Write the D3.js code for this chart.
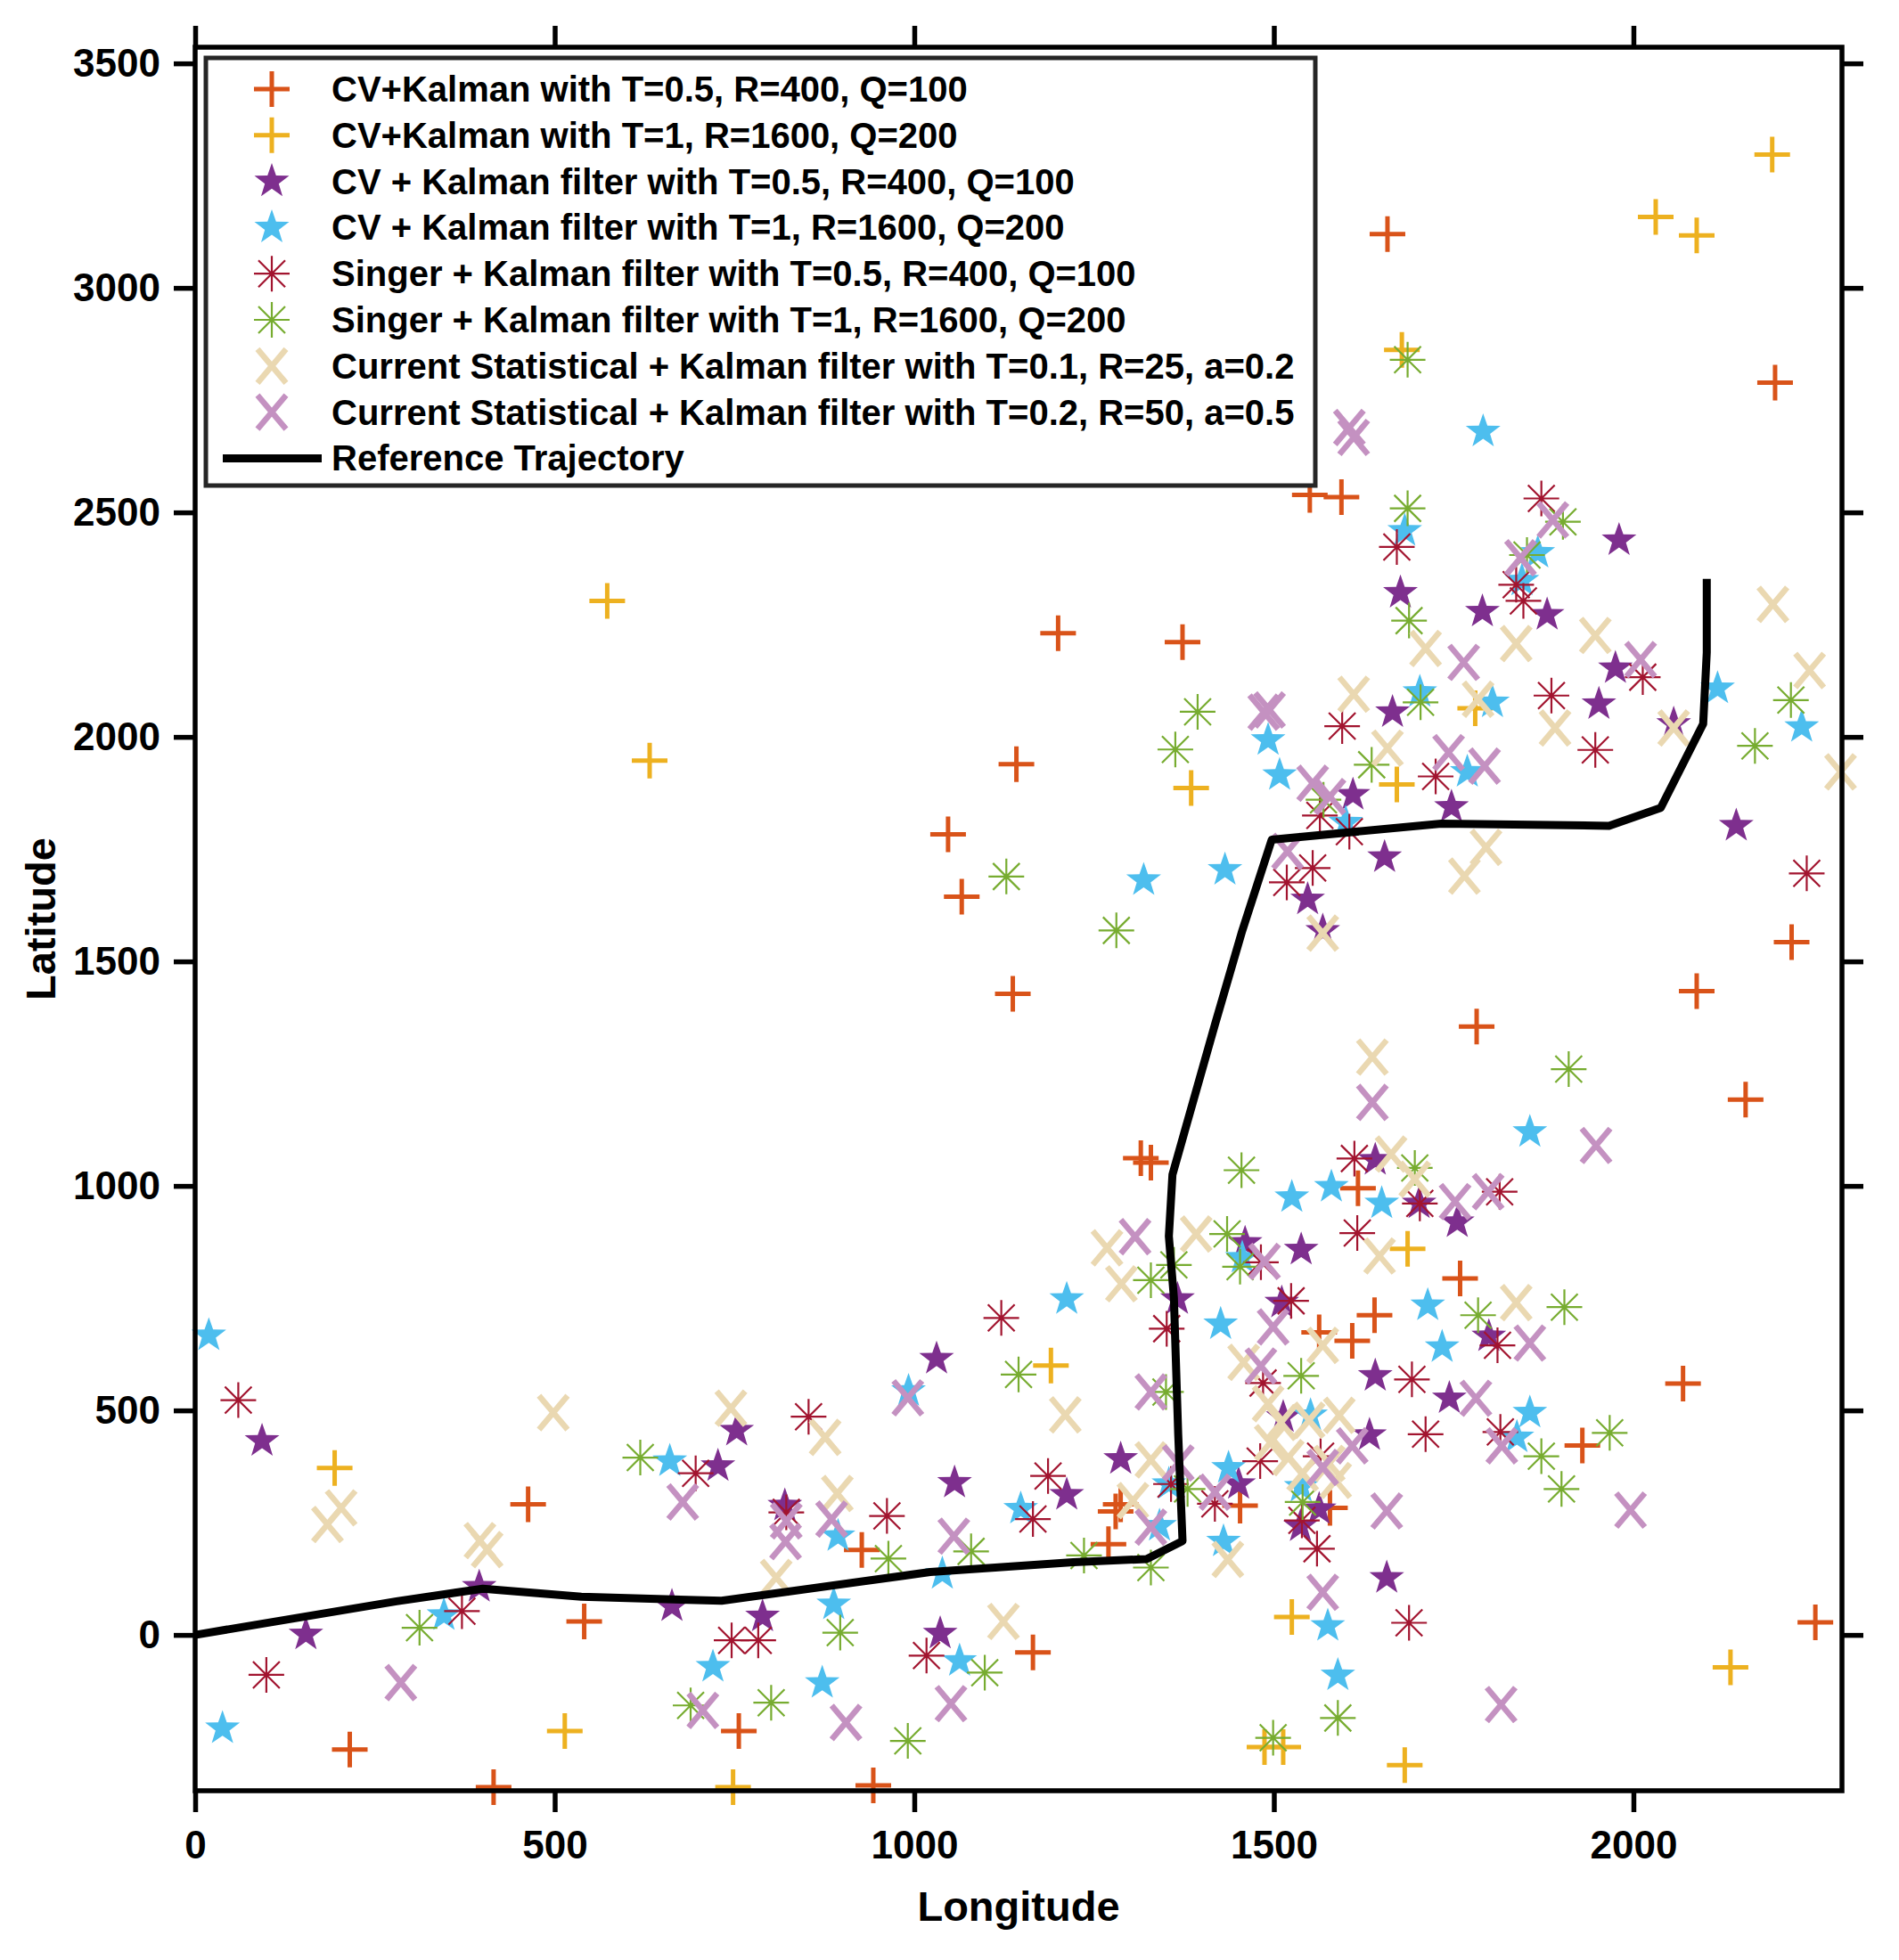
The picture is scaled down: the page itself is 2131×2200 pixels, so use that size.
<!DOCTYPE html>
<html>
<head>
<meta charset="utf-8">
<script src="https://cdn.jsdelivr.net/npm/d3@7"></script>
<style>
  body { margin: 0; background: #fff; }
  text { font-family: 'Liberation Sans', Arial, Helvetica, sans-serif; font-weight: bold; }
</style>
</head>
<body>
<div class="chart"></div>
<script>
// series values [longitude, latitude]
const cvT05 = [[1658,3120],[1550,2539],[1594,2534],[2197,2789],[1200,2231],[1373,2211],[1142,1939],[1047,1783],
  [1066,1644],[1137,1428],[1782,1355],[2088,1434],[2220,1543],[2156,1192],[2069,560],[2253,28],[1315,1062],
  [1329,1052],[1617,995],[1759,794],[1640,712],[1563,674],[1609,655],[1929,422],[1453,288],[1578,283],
  [1287,291],[1280,275],[1270,202],[927,189],[1165,-39],[756,-214],[215,-255],[415,-339],[943,-335],[541,30],[463,291]];
const cvT1 = [[573,2303],[632,1947],[2193,3297],[2031,3158],[2088,3117],[1678,2862],[1385,1886],[1671,1894],
  [1780,2064],[1190,600],[194,372],[514,-214],[748,-339],[1525,40],[1487,-250],[1513,-250],[1682,-290],
  [2135,-72],[1686,860]];
const cvKfT05 = [[1980,2438],[1676,2321],[1790,2279],[1880,2272],[1975,2153],[1952,2073],[1665,2055],[1610,1871],
  [1747,1844],[2143,1802],[1654,1732],[1547,1638],[1568,1568],[2056,2029],[93,432],[154,1],[395,107],[663,64],
  [727,376],[753,455],[789,41],[1031,615],[1056,339],[1036,3],[820,288],[1212,312],[1287,392],[1366,748],
  [1460,873],[1538,858],[1511,740],[1641,1058],[1702,961],[1755,919],[1799,665],[1641,577],[1744,527],
  [1633,445],[1451,336],[1513,485],[1563,280],[1537,242],[1657,127]];
const cvKfT1 = [[1791,2680],[1682,2459],[1867,2410],[1845,2348],[2117,2108],[2234,2022],[1703,2100],[1804,2077],
  [1492,1993],[1508,1915],[1769,1922],[1600,1809],[1432,1704],[1319,1681],[19,667],[38,-208],[346,44],
  [660,387],[720,-71],[872,-107],[888,68],[894,220],[992,543],[1039,136],[1063,-58],[1148,281],[1212,748],
  [1856,1120],[1525,975],[1580,998],[1650,961],[1426,692],[1714,734],[1734,641],[1856,495],[1838,440],
  [1551,489],[1437,372],[1341,243],[1430,208],[1538,330],[1354,336],[1575,20],[1589,-90],[1456,840]];
const singerT05 = [[1872,2531],[1671,2423],[1837,2339],[1847,2303],[2013,2133],[1886,2092],[1595,2024],[1947,1971],
  [1725,1912],[1564,1825],[1605,1789],[1554,1708],[1518,1676],[2241,1696],[60,523],[99,-89],[371,53],
  [696,360],[746,-12],[783,-12],[853,486],[962,265],[1017,-46],[1121,706],[822,273],[1186,354],[1165,258],
  [1612,1061],[1703,961],[1814,987],[1616,895],[1524,744],[1482,830],[1351,682],[1485,561],[1692,569],
  [1811,645],[1711,447],[1815,452],[1481,387],[1565,398],[1357,336],[1418,292],[1539,255],[1560,192],[1688,27]];
const singerT1 = [[1686,2840],[1686,2509],[1902,2479],[1852,2405],[1688,2259],[1704,2077],[1636,1938],[2219,2082],
  [2169,1980],[1569,1860],[1394,2056],[1363,1972],[1128,1689],[1281,1569],[1455,1035],[1696,1040],[1910,1260],
  [1904,730],[1784,712],[1872,398],[1900,325],[1967,450],[1435,893],[1453,820],[1361,824],[1329,790],
  [1145,580],[619,395],[312,16],[689,-157],[801,-151],[897,5],[964,170],[991,-236],[1098,-84],[1079,186],
  [1236,177],[1329,150],[1499,-229],[1589,-185],[1538,577],[1350,541],[1380,325],[1540,296]];
const csT01 = [[2194,2295],[2245,2148],[2288,1922],[1947,2226],[1711,2197],[1837,2208],[1784,2084],[1611,2095],
  [1658,1975],[1891,2020],[2056,2020],[1795,1754],[1765,1690],[1568,1563],[1637,1287],[1663,1071],[1696,1015],
  [1647,844],[1392,893],[1268,862],[1288,782],[1837,740],[1568,645],[1458,607],[1210,490],[1329,390],
  [1304,299],[1436,168],[1492,515],[1510,473],[1495,428],[1520,395],[1549,478],[1591,489],[1540,360],
  [1577,382],[1586,344],[184,246],[203,283],[396,210],[406,190],[498,495],[745,505],[876,440],[893,315],
  [808,128],[1124,30]];
const csT02 = [[1605,2689],[1611,2667],[1888,2483],[1843,2399],[1764,2166],[2010,2172],[1486,2055],[1494,2060],
  [1743,1965],[1793,1935],[1554,1897],[1578,1867],[1519,1745],[1637,1186],[1948,1090],[1307,887],[1487,832],
  [1752,965],[1798,987],[1499,686],[1482,599],[1856,650],[1329,541],[1781,527],[1817,421],[1609,421],
  [1568,373],[1418,318],[1367,383],[1329,240],[1657,276],[1996,278],[1816,-155],[1568,95],[678,296],
  [991,528],[822,254],[821,208],[885,258],[1055,220],[706,-168],[905,-195],[1051,-153],[286,-106]];
const reference = [[0,0],[280,75],[400,103],[537,85],[732,76],[1022,140],[1221,162],[1323,169],[1373,209],
  [1367,447],[1361,751],[1354,888],[1359,1025],[1375,1116],[1418,1359],[1456,1568],[1497,1771],[1733,1807],
  [1966,1802],[2038,1842],[2097,2029],[2102,2188],[2102,2352]];

const seriesNames = [
  'CV+Kalman with T=0.5, R=400, Q=100',
  'CV+Kalman with T=1, R=1600, Q=200',
  'CV + Kalman filter with T=0.5, R=400, Q=100',
  'CV + Kalman filter with T=1, R=1600, Q=200',
  'Singer + Kalman filter with T=0.5, R=400, Q=100',
  'Singer + Kalman filter with T=1, R=1600, Q=200',
  'Current Statistical + Kalman filter with T=0.1, R=25, a=0.2',
  'Current Statistical + Kalman filter with T=0.2, R=50, a=0.5'
];
const referenceName = 'Reference Trajectory';
const xTicks = [0, 500, 1000, 1500, 2000];
const yTicks = [0, 500, 1000, 1500, 2000, 2500, 3000, 3500];

const W = 2131, H = 2200;
const margin = ({top: 53, right: 64, bottom: 190, left: 219});

const svg = d3.select('.chart')
  .append('svg')
  .attr('width', W)
  .attr('height', H);

svg.append('rect').attr('width', W).attr('height', H).attr('fill', '#fff');

const xScale = d3.scaleLinear().domain([0, 2290]).range([margin.left, W - margin.right]);
const yScale = d3.scaleLinear().domain([-347, 3536]).range([H - margin.bottom, margin.top]);

// marker shapes (MATLAB-like)
function starPath(R) {
  const r = R * 0.4;
  let p = '';
  for (let i = 0; i < 10; i++) {
    const a = -Math.PI / 2 + i * Math.PI / 5;
    const rr = i % 2 === 0 ? R : r;
    p += (i === 0 ? 'M' : 'L') + (rr * Math.cos(a)).toFixed(2) + ',' + (rr * Math.sin(a)).toFixed(2);
  }
  return p + 'Z';
}
const shapes = {
  plus: {d: 'M-20,0H20M0,-20V20', fill: 'none', sw: 5},
  star: {d: starPath(20.5), fill: 'c', sw: 0},
  aster: {d: 'M-20,0H20M0,-20V20M-15,-15L15,15M-15,15L15,-15', fill: 'none', sw: 2.2},
  cross: {d: 'M-16,-19L16,19M16,-19L-16,19', fill: 'none', sw: 6.5}
};

const series = [
  {data: cvT05, shape: 'plus', color: '#D95319'},
  {data: cvT1, shape: 'plus', color: '#EDB120'},
  {data: cvKfT05, shape: 'star', color: '#7E2F8E'},
  {data: cvKfT1, shape: 'star', color: '#4DBEEE'},
  {data: singerT05, shape: 'aster', color: '#A2142F'},
  {data: singerT1, shape: 'aster', color: '#77AC30'},
  {data: csT01, shape: 'cross', color: '#EAD8B1'},
  {data: csT02, shape: 'cross', color: '#C491C1'}
];

function drawMarker(sel, s) {
  const sh = shapes[s.shape];
  sel.append('path')
    .attr('d', sh.d)
    .attr('fill', sh.fill === 'c' ? s.color : 'none')
    .attr('stroke', sh.fill === 'c' ? 'none' : s.color)
    .attr('stroke-width', sh.sw);
}

const plot = svg.append('g').attr('class', 'points');
series.forEach(s => {
  plot.append('g').selectAll('g')
    .data(s.data)
    .enter()
    .append('g')
    .attr('transform', d => 'translate(' + xScale(d[0]) + ',' + yScale(d[1]) + ')')
    .each(function() { drawMarker(d3.select(this), s); });
});

const line = d3.line().x(d => xScale(d[0])).y(d => yScale(d[1]));
svg.append('path')
  .datum(reference)
  .attr('d', line)
  .attr('fill', 'none')
  .attr('stroke', '#000')
  .attr('stroke-width', 9)
  .attr('stroke-linejoin', 'round');

// axes with outward ticks on all four sides
const tickLen = 24;
const styleAxis = g => {
  g.select('.domain').remove();
  g.selectAll('.tick line').attr('stroke', '#000').attr('stroke-width', 5.5);
  g.selectAll('.tick text').attr('fill', '#000').style('font-size', '44px')
    .style('font-family', "'Liberation Sans', Arial, sans-serif").style('font-weight', 'bold');
};
svg.append('g')
  .attr('transform', 'translate(0,' + (H - margin.bottom) + ')')
  .call(d3.axisBottom(xScale).tickValues(xTicks).tickSize(tickLen).tickPadding(21).tickFormat(d3.format('d')))
  .call(styleAxis);
svg.append('g')
  .attr('transform', 'translate(0,' + margin.top + ')')
  .call(d3.axisTop(xScale).tickValues(xTicks).tickSize(tickLen).tickFormat(''))
  .call(styleAxis);
svg.append('g')
  .attr('transform', 'translate(' + margin.left + ',0)')
  .call(d3.axisLeft(yScale).tickValues(yTicks).tickSize(tickLen).tickPadding(15).tickFormat(d3.format('d')))
  .call(styleAxis);
svg.append('g')
  .attr('transform', 'translate(' + (W - margin.right) + ',0)')
  .call(d3.axisRight(yScale).tickValues(yTicks).tickSize(tickLen).tickFormat(''))
  .call(styleAxis);

svg.append('rect')
  .attr('x', margin.left)
  .attr('y', margin.top)
  .attr('width', W - margin.left - margin.right)
  .attr('height', H - margin.top - margin.bottom)
  .attr('fill', 'none')
  .attr('stroke', '#000')
  .attr('stroke-width', 5.5);

svg.append('text')
  .attr('x', (margin.left + W - margin.right) / 2)
  .attr('y', 2156)
  .attr('text-anchor', 'middle')
  .style('font-size', '47px')
  .text('Longitude');

svg.append('text')
  .attr('transform', 'translate(62,' + ((margin.top + H - margin.bottom) / 2) + ') rotate(-90)')
  .attr('text-anchor', 'middle')
  .style('font-size', '47px')
  .text('Latitude');

// legend
const legend = svg.append('g').attr('class', 'legend');
legend.append('rect')
  .attr('x', 231)
  .attr('y', 65)
  .attr('width', 1245)
  .attr('height', 480)
  .attr('fill', '#fff')
  .attr('stroke', '#262626')
  .attr('stroke-width', 5);

const rowY = i => 100 + i * 51.8;
series.forEach((s, i) => {
  const g = legend.append('g').attr('transform', 'translate(305,' + rowY(i) + ')');
  drawMarker(g, s);
});
legend.append('line')
  .attr('x1', 250).attr('x2', 361)
  .attr('y1', rowY(8)).attr('y2', rowY(8))
  .attr('stroke', '#000')
  .attr('stroke-width', 9);

legend.selectAll('.legendText')
  .data(seriesNames.concat([referenceName]))
  .enter()
  .append('text')
  .attr('x', 372)
  .attr('y', (d, i) => rowY(i) + 14)
  .style('font-size', '40px')
  .text(d => d);
</script>
</body>
</html>
